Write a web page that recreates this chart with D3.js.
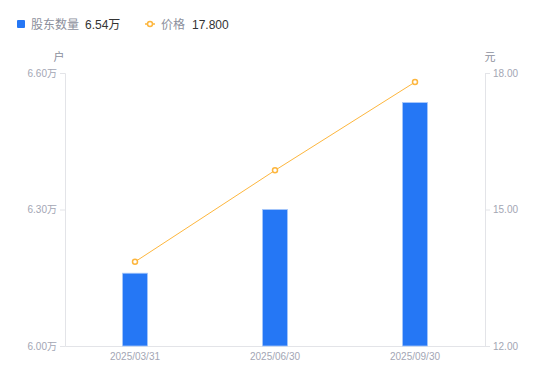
<!DOCTYPE html>
<html lang="zh">
<head>
<meta charset="UTF-8">
<style>
  body { margin: 0; background: #fff; font-family: "Liberation Sans", "Noto Sans CJK SC", sans-serif; }
  svg { display: block; }
</style>
</head>
<body>
<div id="chart"></div>
<script src="https://d3js.org/d3.v7.min.js"></script>
<script>
const categories = ["2025/03/31", "2025/06/30", "2025/09/30"];
const holders = [6.16, 6.30, 6.535];   // 万户
const prices = [13.85, 15.86, 17.80];  // 元
const leftTicks = [6.00, 6.30, 6.60];
const rightTicks = [12.00, 15.00, 18.00];

const width = 550, height = 381;
const margin = { top: 73, right: 65, bottom: 35, left: 65 };

const svg = d3.select("#chart").append("svg")
  .attr("width", width)
  .attr("height", height);

const x = d3.scaleBand()
  .domain(categories)
  .range([margin.left, width - margin.right]);

const yL = d3.scaleLinear().domain([6.0, 6.6]).range([height - margin.bottom, margin.top]);
const yR = d3.scaleLinear().domain([12, 18]).range([height - margin.bottom, margin.top]);

const axisColor = "#e3e4e8";
const labelColor = "#a3a6b4";
const fontStack = "'Liberation Sans', 'Noto Sans CJK SC', sans-serif";

// left axis
const gL = svg.append("g").attr("transform", `translate(${margin.left},0)`)
  .call(d3.axisLeft(yL).tickValues(leftTicks).tickSize(5).tickPadding(3).tickFormat(d => d.toFixed(2) + "万"));
// right axis
const gR = svg.append("g").attr("transform", `translate(${width - margin.right},0)`)
  .call(d3.axisRight(yR).tickValues(rightTicks).tickSize(5).tickPadding(3).tickFormat(d => d.toFixed(2)));
// bottom axis
const gB = svg.append("g").attr("transform", `translate(0,${height - margin.bottom})`)
  .call(d3.axisBottom(x).tickSize(0).tickPadding(7));

[gL, gR, gB].forEach(g => {
  g.select(".domain").attr("stroke", axisColor);
  g.selectAll(".tick line").attr("stroke", axisColor);
  g.selectAll("text").attr("fill", labelColor).style("font-size", "10px")
    .style("font-family", fontStack);
});

// axis titles
svg.append("text").attr("x", 59).attr("y", 61).attr("text-anchor", "middle")
  .attr("fill", "#8c8f9c").style("font-size", "11px").text("户");
svg.append("text").attr("x", 490).attr("y", 61).attr("text-anchor", "middle")
  .attr("fill", "#8c8f9c").style("font-size", "11px").text("元");

// bars
const barW = 25;
svg.selectAll(".bar").data(holders).enter().append("rect")
  .attr("class", "bar")
  .attr("x", (d, i) => x(categories[i]) + x.bandwidth() / 2 - barW / 2)
  .attr("y", d => yL(d))
  .attr("width", barW)
  .attr("height", d => yL(6.0) - yL(d))
  .attr("fill", "#2577f5")
  .attr("stroke", "#a9c8fb")
  .attr("stroke-width", 0.8);

// price line
const cx = (d, i) => x(categories[i]) + x.bandwidth() / 2;
const line = d3.line().x(cx).y(d => yR(d));
svg.append("path").datum(prices)
  .attr("d", line)
  .attr("fill", "none")
  .attr("stroke", "#fdb63d")
  .attr("stroke-width", 1);

svg.selectAll(".pt").data(prices).enter().append("circle")
  .attr("class", "pt")
  .attr("cx", cx)
  .attr("cy", d => yR(d))
  .attr("r", 2.5)
  .attr("fill", "#fff")
  .attr("stroke", "#fdb63d")
  .attr("stroke-width", 1.5);

// legend
const lg = svg.append("g").style("font-family", fontStack);
lg.append("rect").attr("x", 17).attr("y", 20).attr("width", 8).attr("height", 8)
  .attr("rx", 1).attr("fill", "#2577f5");
lg.append("text").attr("x", 31).attr("y", 28.5).attr("fill", "#8c8f9c")
  .style("font-size", "12px").text("股东数量");
lg.append("text").attr("x", 85).attr("y", 28.5).attr("fill", "#333")
  .style("font-size", "12px").text(holders[2].toFixed(2) + "万");

lg.append("line").attr("x1", 145).attr("x2", 155).attr("y1", 24).attr("y2", 24)
  .attr("stroke", "#fdb63d").attr("stroke-width", 1.5);
lg.append("circle").attr("cx", 150).attr("cy", 24).attr("r", 2.5)
  .attr("fill", "#fff").attr("stroke", "#fdb63d").attr("stroke-width", 1.5);
lg.append("text").attr("x", 161).attr("y", 28.5).attr("fill", "#8c8f9c")
  .style("font-size", "12px").text("价格");
lg.append("text").attr("x", 192).attr("y", 28.5).attr("fill", "#333")
  .style("font-size", "12px").text(prices[2].toFixed(3));
</script>
</body>
</html>
